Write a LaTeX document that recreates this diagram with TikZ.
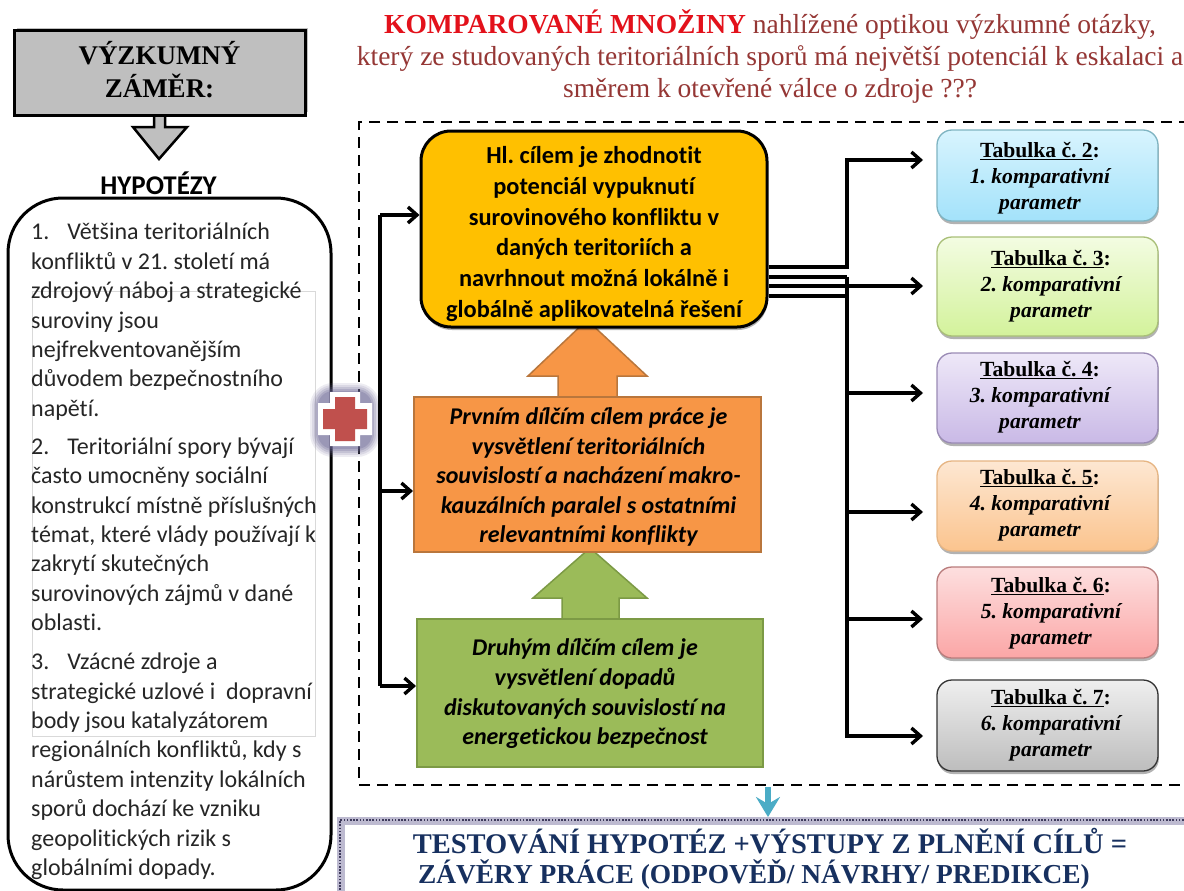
\documentclass[tikz,border=0pt]{standalone}
\usepackage{fontspec}
\setmainfont{Liberation Serif}
\setsansfont{Carlito}[Ligatures={NoCommon}]
\usepackage{xcolor}
\usepackage{tikz}
\usetikzlibrary{arrows.meta, shadows}
\frenchspacing

\definecolor{titlered}{HTML}{E3111B}
\definecolor{titledark}{HTML}{953735}
\definecolor{navytext}{HTML}{17305F}
\definecolor{aimyellow}{HTML}{FFC000}
\definecolor{firstorange}{HTML}{F79646}
\definecolor{firstedge}{HTML}{B9763C}
\definecolor{secgreen}{HTML}{9BBB59}
\definecolor{secedge}{HTML}{7C9A45}
\definecolor{plusred}{HTML}{C0504D}
\definecolor{glow}{HTML}{6F6A98}
\definecolor{arrowteal}{HTML}{4BACC6}
\definecolor{dotedge}{HTML}{BDBAD0}
\definecolor{dotdark}{HTML}{3E3A5C}
\definecolor{blueedge}{HTML}{7FB4C2}
\definecolor{bluetop}{HTML}{D8F4FE}
\definecolor{bluebot}{HTML}{A3E2FA}
\definecolor{limeedge}{HTML}{A9BF78}
\definecolor{limetop}{HTML}{F3FCE2}
\definecolor{limebot}{HTML}{D3F29B}
\definecolor{violetedge}{HTML}{9A8BB5}
\definecolor{violettop}{HTML}{EEE8F8}
\definecolor{violetbot}{HTML}{C9B9E6}
\definecolor{peachedge}{HTML}{E6B583}
\definecolor{peachtop}{HTML}{FDE7D2}
\definecolor{peachbot}{HTML}{FBC48E}
\definecolor{pinkedge}{HTML}{B97C7C}
\definecolor{pinktop}{HTML}{FDDFDF}
\definecolor{pinkbot}{HTML}{FBA6A6}
\definecolor{greyedge}{HTML}{333333}
\definecolor{greytop}{HTML}{EFEFEF}
\definecolor{greybot}{HTML}{BDBDBD}

\tikzset{
  softshadow/.style={drop shadow={shadow xshift=.8pt,shadow yshift=-3pt,fill=black,opacity=.3}},
  link/.style={line width=3.4pt,black},
  linkarrow/.style={line width=3.4pt,black,-{Straight Barb[length=9pt,width=16pt,line width=3.4pt]}},
  tablebox/.style={draw=#1edge,top color=#1top,bottom color=#1bot,line width=1.3pt,rounded corners=15pt,minimum width=221pt,inner sep=0pt,softshadow},
  tabletext/.style={font=\fontsize{21.6}{26}\selectfont\bfseries,align=center,inner sep=0pt},
  goaltext/.style={font=\fontsize{24}{#1}\selectfont\sffamily\bfseries\itshape,align=center,inner sep=0pt},
  glowring/.style={line width=#1,glow,line join=round}
}

\begin{document}
\begin{tikzpicture}[x=1pt,y=-1pt]
\path[use as bounding box,fill=white] (0,0) rectangle (1184,891);

% title
\node[align=center,inner sep=0pt,font=\fontsize{27.5}{32}\selectfont,text=titledark] (title) at (770,56)
  {{\color{titlered}\bfseries KOMPAROVANÉ MNOŽINY} nahlížené optikou výzkumné otázky,\\
   který ze studovaných teritoriálních sporů má největší potenciál k eskalaci a\\
   směrem k otevřené válce o zdroje ???};

% left column
\draw[line width=2.5pt,black,fill=gray!50] (154,115) -- (154,127) -- (133,127) -- (159,159) -- (187,127) -- (165,127) -- (165,115);
\node[draw=black,line width=3pt,fill=gray!50,minimum width=291pt,minimum height=84pt,inner sep=0pt,
  drop shadow={shadow xshift=3pt,shadow yshift=3pt,fill=black,opacity=.25}] (zamer) at (159.5,73) {};
\node[align=center,inner sep=0pt,font=\fontsize{27}{33}\selectfont\bfseries] (zamertext) at (159.5,69.5) {VÝZKUMNÝ\\ZÁMĚR:};
\node[font=\fontsize{27}{30}\selectfont\sffamily\bfseries,inner sep=0pt] (hypotezy) at (158.5,183) {HYPOTÉZY};
\node[draw=black,line width=3pt,fill=white,rounded corners=55pt,minimum width=323pt,minimum height=692pt,inner sep=0pt] (hypobox) at (169.5,544) {};
\draw[gray!30,line width=.8pt] (32,291) rectangle (315,736);
\node[anchor=north west,align=left,inner sep=0pt,font=\fontsize{24}{29.4}\selectfont\sffamily,text=black!85] (hypotext) at (31,223)
  {1.\hspace{18pt}Většina teritoriálních\\
   konfliktů v 21. století má\\
   zdrojový náboj a strategické\\
   suroviny jsou\\
   nejfrekventovanějším\\
   důvodem bezpečnostního\\
   napětí.\\[8.6pt]
   2.\hspace{18pt}Teritoriální spory bývají\\
   často umocněny sociální\\
   konstrukcí místně příslušných\\
   témat, které vlády používají k\\
   zakrytí skutečných\\
   surovinových zájmů v dané\\
   oblasti.\\[9.6pt]
   3.\hspace{18pt}Vzácné zdroje a\\
   strategické uzlové i\ \ dopravní\\
   body jsou katalyzátorem\\
   regionálních konfliktů, kdy s\\
   nárůstem intenzity lokálních\\
   sporů dochází ke vzniku\\
   geopolitických rizik s\\
   globálními dopady.};

% dashed frame
\draw[line width=2.5pt,black,dash pattern=on 11pt off 7pt] (1190,122) -- (359,122) -- (359,785) -- (1190,785);

% plus
\draw[glowring=46pt,opacity=.12] (333,406) -- (357,406) -- (357,434) -- (333,434) -- cycle;
\draw[glowring=42pt,opacity=.15] (333,406) -- (357,406) -- (357,434) -- (333,434) -- cycle;
\draw[glowring=38pt,opacity=.2] (333,406) -- (357,406) -- (357,434) -- (333,434) -- cycle;
\draw[glowring=34pt,opacity=.25] (333,406) -- (357,406) -- (357,434) -- (333,434) -- cycle;
\draw[glowring=30pt,opacity=.3] (333,406) -- (357,406) -- (357,434) -- (333,434) -- cycle;
\fill[white] (330,392) -- (360,392) -- (360,403) -- (372,403) -- (372,435) -- (360,435) -- (360,446) -- (330,446) -- (330,435) -- (318,435) -- (318,403) -- (330,403) -- cycle;
\fill[plusred] (335,397) -- (355,397) -- (355,409) -- (367,409) -- (367,429) -- (355,429) -- (355,441) -- (335,441) -- (335,429) -- (323,429) -- (323,409) -- (335,409) -- cycle;

% goals
\draw[line width=1.5pt,firstedge,fill=firstorange] (558,398) -- (558,376) -- (528,376) -- (587,320) -- (647,376) -- (617,376) -- (617,398);
\draw[line width=1.5pt,secedge,fill=secgreen] (562,619) -- (562,598) -- (533,598) -- (590,548) -- (647,598) -- (619,598) -- (619,619);
\node[draw=black,line width=3pt,fill=aimyellow,rounded corners=30pt,minimum width=346pt,minimum height=196pt,inner sep=0pt,softshadow] (aim) at (594,229) {};
\node[draw=firstedge,line width=2pt,fill=firstorange,minimum width=347pt,minimum height=155pt,inner sep=0pt] (first) at (587.5,474.5) {};
\node[draw=secedge,line width=2pt,fill=secgreen,minimum width=346pt,minimum height=148pt,inner sep=0pt] (second) at (590,693) {};
\node[goaltext=30.8,font=\fontsize{24.4}{30.8}\selectfont\sffamily\bfseries] (aimtext) at (594,234)
  {Hl. cílem je zhodnotit\\potenciál vypuknutí\\surovinového konfliktu v\\daných teritoriích a\\navrhnout možná lokálně i\\globálně aplikovatelná řešení};
\node[goaltext=29.5] (firsttext) at (588.5,477)
  {Prvním dílčím cílem práce je\\vysvětlení teritoriálních\\souvislostí a nacházení makro-\\kauzálních paralel s ostatními\\relevantními konflikty};
\node[goaltext=29.7] (secondtext) at (585,694)
  {Druhým dílčím cílem je\\vysvětlení dopadů\\diskutovaných souvislostí na\\energetickou bezpečnost};

% left bus
\coordinate (busa) at (380,215);
\coordinate (busb) at (380,491);
\coordinate (busc) at (380,686);
\draw[link] (busa) -- (busc);
\draw[linkarrow] (busa) -- ([yshift=14pt]aim.west);
\draw[linkarrow] (busb) -- ([yshift=-16.5pt]first.west);
\draw[linkarrow] (busc) -- ([yshift=7pt]second.west);

% tables
\node[tablebox=blue,minimum height=91pt] (tab2) at (1047.5,175.5) {};
\node[tablebox=lime,minimum height=99pt] (tab3) at (1047.5,286.5) {};
\node[tablebox=violet,minimum height=90pt] (tab4) at (1047.5,398) {};
\node[tablebox=peach,minimum height=90pt] (tab5) at (1047.5,506) {};
\node[tablebox=pink,minimum height=91pt] (tab6) at (1047.5,612.5) {};
\node[tablebox=grey,minimum height=91pt] (tab7) at (1047.5,725.5) {};
\node[tabletext] (text2) at (1040,178) {\underline{Tabulka č. 2}:\\\itshape 1. komparativní\\\itshape parametr};
\node[tabletext] (text3) at (1051,286) {\underline{Tabulka č. 3}:\\\itshape 2. komparativní\\\itshape parametr};
\node[tabletext] (text4) at (1040,397) {\underline{Tabulka č. 4}:\\\itshape 3. komparativní\\\itshape parametr};
\node[tabletext] (text5) at (1040,505) {\underline{Tabulka č. 5}:\\\itshape 4. komparativní\\\itshape parametr};
\node[tabletext] (text6) at (1051,613) {\underline{Tabulka č. 6}:\\\itshape 5. komparativní\\\itshape parametr};
\node[tabletext] (text7) at (1051,725) {\underline{Tabulka č. 7}:\\\itshape 6. komparativní\\\itshape parametr};

% right bus
\coordinate (in2) at (923,160);
\coordinate (in3) at (923,286);
\coordinate (in4) at (923,393);
\coordinate (in5) at (923,512);
\coordinate (in6) at (923,619);
\coordinate (in7) at (923,736);
\coordinate (turna) at (847,277);
\coordinate (turnb) at (847,296);
\draw[linkarrow] ([yshift=-38pt]aim.east) -| (847,160) -- (in2);
\draw[linkarrow] ([yshift=-57pt]aim.east) -- (in3);
\draw[link] ([yshift=-48pt]aim.east) -- (turna);
\draw[link] ([yshift=-67pt]aim.east) -- (turnb);
\draw[link,line join=miter] (turna) -- (847,736);
\draw[linkarrow] (847,393) -- (in4);
\draw[linkarrow] (847,512) -- (in5);
\draw[linkarrow] (847,619) -- (in6);
\draw[linkarrow] (845.3,736) -- (in7);

% outcome
\node[draw=dotedge,line width=8pt,fill=white,minimum width=858pt,minimum height=76pt,inner sep=0pt,align=center,
  font=\fontsize{28.5}{30}\selectfont\bfseries,text=navytext] (outcome) at (770,859)
  {TESTOVÁNÍ HYPOTÉZ +VÝSTUPY Z PLNĚNÍ CÍLŮ =\\{\fontsize{27.4}{30}\selectfont ZÁVĚRY PRÁCE (ODPOVĚĎ/ NÁVRHY/ PREDIKCE)\hspace*{32pt}}};
\draw[dotdark,line width=2.4pt,dash pattern=on 1.6pt off 1.6pt] (1190,820) -- (340,820) -- (340,895);
\coordinate (framefoot) at (768,787);
\draw[line width=6pt,arrowteal,-{Stealth[length=20pt,width=24pt,inset=7pt]}] (framefoot) -- (outcome.north -| framefoot);
\end{tikzpicture}
\end{document}
